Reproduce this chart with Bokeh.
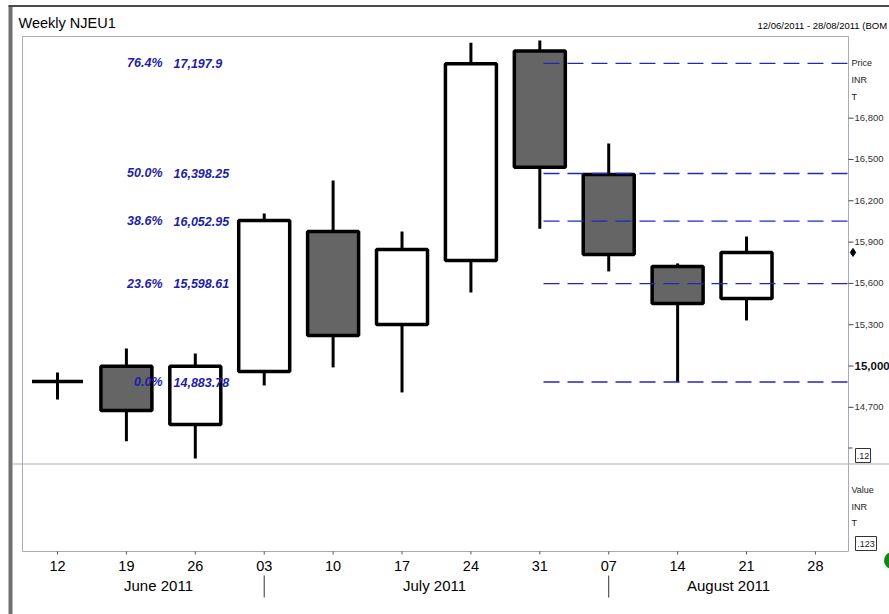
from bokeh.plotting import figure
from bokeh.models import ColumnDataSource, Range1d
from bokeh.core.properties import value
from bokeh.embed import file_html
from bokeh.resources import INLINE

# ---------------- data ----------------
week_labels = ["12", "19", "26", "03", "10", "17", "24", "31", "07", "14", "21", "28"]
month_names = ["June 2011", "July 2011", "August 2011"]
month_breaks = [3, 8]
opens  = [14887, 14999, 14575, 14960, 15977, 15301, 15766, 17287, 16391, 15723, 15491]
highs  = [14953, 15127, 15091, 16108, 16348, 15977, 17348, 17364, 16616, 15745, 15941]
lows   = [14757, 14454, 14328, 14859, 14990, 14808, 15534, 15997, 15687, 14884, 15331]
closes = [14887, 14677, 14999, 16057, 15222, 15846, 17195, 16444, 15810, 15454, 15825]
fib_pct = ["0.0%", "23.6%", "38.6%", "50.0%", "76.4%"]
fib_levels = [14883.78, 15598.61, 16052.95, 16398.25, 17197.9]
fib_texts = ["14,883.78", "15,598.61", "16,052.95", "16,398.25", "17,197.9"]
price_ticks = [14700, 15000, 15300, 15600, 15900, 16200, 16500, 16800]

# ---------------- layout helpers (pixel -> data) ----------------
W, H = 889, 614
FL, FT, FR, FB = 22, 36, 848, 551          # chart box in pixels
BX0, BX1 = -0.508, 11.48                   # data x at box left / right
BY0, BY1 = 13653.0, 17393.0                # data y at box bottom / top

def X(px):
    return BX0 + (px - FL) * (BX1 - BX0) / (FR - FL)

def Y(py):
    return BY1 - (py - FT) * (BY1 - BY0) / (FB - FT)

FONT = value("'Liberation Sans', Arial, sans-serif")

p = figure(width=W, height=H, output_backend="svg", toolbar_location=None,
           x_range=Range1d(X(0), X(W)), y_range=Range1d(Y(H), Y(0)),
           x_axis_location=None, y_axis_location=None,
           min_border=0, min_border_left=0, min_border_right=0,
           min_border_top=0, min_border_bottom=0)
p.title.visible = False
p.xgrid.visible = False
p.ygrid.visible = False
p.background_fill_color = "white"
p.border_fill_color = "white"
p.outline_line_color = None

# ---------------- frame decoration ----------------
p.quad(left=[X(8)], right=[X(12)], top=[Y(5)], bottom=[Y(H + 5)],
       fill_color="#707070", line_color=None)
p.segment(x0=[X(8)], y0=[Y(5.5)], x1=[X(W + 5)], y1=[Y(5.5)], line_color="#4a4a4a", line_width=2)
p.quad(left=[X(FL)], right=[X(FR)], top=[Y(FT)], bottom=[Y(FB)],
       fill_color=None, line_color="#a9a9b8", line_width=1)
p.segment(x0=[X(12)], y0=[Y(463.5)], x1=[X(W + 5)], y1=[Y(463.5)], line_color="#a9a9b8", line_width=1)

# ---------------- candles ----------------
n = len(opens)
idx = list(range(n))
fills = ["white" if c >= o else "#656565" for o, c in zip(opens, closes)]
src = ColumnDataSource(dict(x=idx, o=opens, h=highs, l=lows, c=closes,
                            top=[max(o, c) for o, c in zip(opens, closes)],
                            bot=[min(o, c) for o, c in zip(opens, closes)],
                            fill=fills))
p.segment(x0="x", y0="l", x1="x", y1="h", source=src, line_color="black", line_width=3)
p.vbar(x="x", top="top", bottom="bot", width=0.74, source=src,
       fill_color="fill", line_color="black", line_width=3.5)

# ---------------- fibonacci ----------------
nf = len(fib_levels)
fsrc = ColumnDataSource(dict(y=fib_levels, pct=fib_pct, val=fib_texts,
                             x0=[X(543)] * nf, x1=[X(FR)] * nf,
                             xp=[X(162)] * nf, xv=[X(173)] * nf))
p.segment(x0="x0", y0="y", x1="x1", y1="y", source=fsrc, line_color="#2424c4",
          line_width=1.3, line_dash="16 8")
p.text(x="xp", y="y", text="pct", source=fsrc, text_align="right", text_baseline="middle",
       text_font=FONT, text_font_size="12.5px", text_font_style="bold italic",
       text_color="#1e1ea6")
p.text(x="xv", y="y", text="val", source=fsrc, text_align="left", text_baseline="middle",
       text_font=FONT, text_font_size="12.5px", text_font_style="bold italic",
       text_color="#1e1ea6")

# ---------------- price scale (right) ----------------
nt = len(price_ticks)
p.segment(x0=[X(FR)] * nt, y0=price_ticks, x1=[X(853)] * nt, y1=price_ticks,
          line_color="#444444", line_width=1)
reg = [t for t in price_ticks if t != 15000]
p.text(x=[X(854)] * len(reg), y=reg, text=[f"{t:,}" for t in reg],
       text_align="left", text_baseline="middle", text_font=FONT,
       text_font_size="9.5px", text_color="#333333")
p.text(x=[X(854)], y=[15000], text=["15,000"], text_align="left", text_baseline="middle",
       text_font=FONT, text_font_size="11.5px", text_font_style="bold", text_color="#111111")
p.scatter(x=[X(852.5)], y=[closes[-1]], marker="diamond", size=8,
          fill_color="black", line_color="black")

side = [("Price", 62), ("INR", 79), ("T", 96), ("Value", 489), ("INR", 506), ("T", 522)]
p.text(x=[X(851)] * len(side), y=[Y(py) for _, py in side], text=[t for t, _ in side],
       text_align="left", text_baseline="middle", text_font=FONT,
       text_font_size="9px", text_color="#222222")

boxes = [(".12", 855, 870, 448, 462), (".123", 855, 876, 536, 550)]
p.quad(left=[X(b[1]) for b in boxes], right=[X(b[2]) for b in boxes],
       top=[Y(b[3]) for b in boxes], bottom=[Y(b[4]) for b in boxes],
       fill_color="white", line_color="#333333", line_width=1)
p.text(x=[X((b[1] + b[2]) / 2) for b in boxes], y=[Y((b[3] + b[4]) / 2) for b in boxes],
       text=[b[0] for b in boxes], text_align="center", text_baseline="middle",
       text_font=FONT, text_font_size="9px", text_color="#222222")
p.segment(x0=[X(FR)], y0=[Y(447.5)], x1=[X(852)], y1=[Y(447.5)], line_color="#444444")

p.scatter(x=[X(892)], y=[Y(560)], marker="circle", size=17, fill_color="#0b8a0b", line_color=None)

# ---------------- time scale (bottom) ----------------
nw = len(week_labels)
p.segment(x0=list(range(nw)), y0=[Y(FB)] * nw, x1=list(range(nw)), y1=[Y(554)] * nw,
          line_color="#555555", line_width=1)
p.text(x=list(range(nw)), y=[Y(565)] * nw, text=week_labels, text_align="center",
       text_baseline="middle", text_font=FONT, text_font_size="14.5px", text_color="black")
p.segment(x0=month_breaks, y0=[Y(575)] * len(month_breaks),
          x1=month_breaks, y1=[Y(597)] * len(month_breaks), line_color="#333333", line_width=1)
p.text(x=[X(158), X(434), X(728)], y=[Y(585)] * 3, text=month_names, text_align="center",
       text_baseline="middle", text_font=FONT, text_font_size="15px", text_color="black")

# ---------------- titles ----------------
p.text(x=[X(18)], y=[Y(22)], text=["Weekly NJEU1"], text_align="left", text_baseline="middle",
       text_font=FONT, text_font_size="14.5px", text_color="black")
p.text(x=[X(757)], y=[Y(25)], text=["12/06/2011 - 28/08/2011 (BOM"], text_align="left",
       text_baseline="middle", text_font=FONT, text_font_size="9.5px", text_color="black")

open("out.html", "w").write(file_html(p, INLINE))
